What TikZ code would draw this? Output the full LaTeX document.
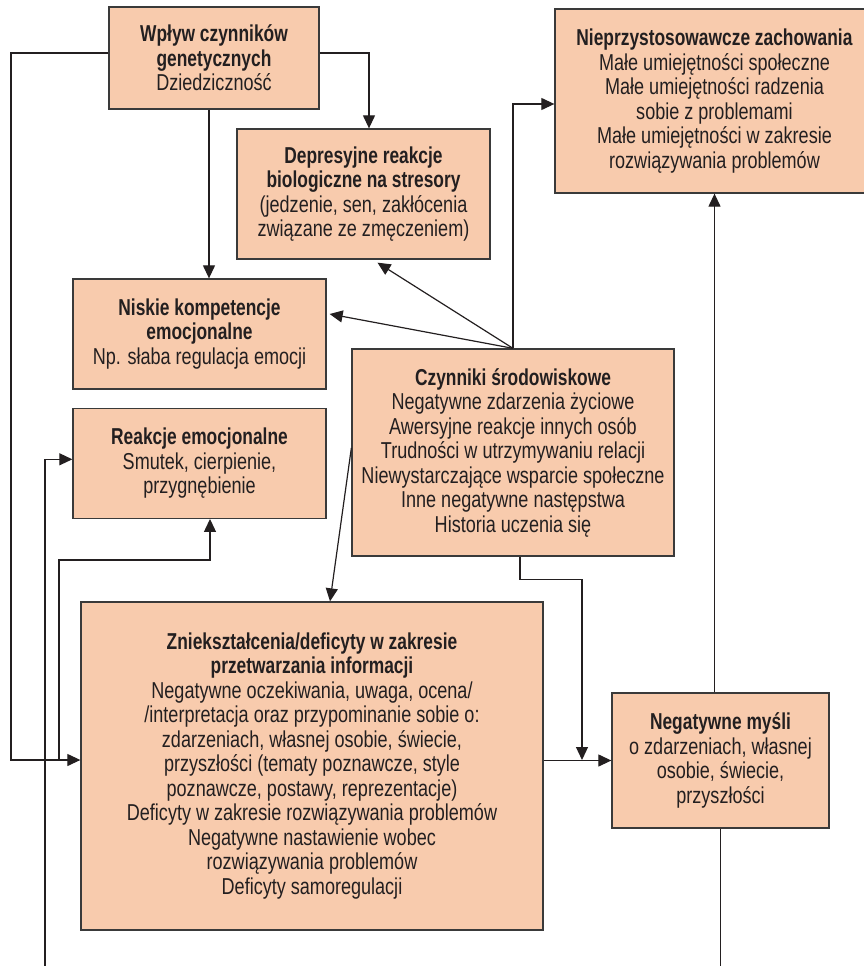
\documentclass[tikz,border=0pt]{standalone}
\usepackage{fontspec}
\setmainfont{Liberation Sans}[FakeStretch=0.785, BoldFeatures={FakeStretch=0.755}]
\usepackage{tikz}
\usetikzlibrary{arrows.meta, positioning}

\definecolor{peach}{HTML}{F8CBAD}
\definecolor{edge}{HTML}{3A3A3A}
\definecolor{txt}{HTML}{231F20}

\begin{document}
\begin{tikzpicture}[
    x=1pt, y=-1pt,
    >={Triangle[length=13pt, width=12pt]},
    pbox/.style={draw=edge, line width=1.3pt, fill=peach, align=center, inner sep=0pt, text=txt, font=\fontsize{23}{24.5}\selectfont},
    link/.style={draw=txt, line width=1.2pt}
]
\useasboundingbox (0,0) rectangle (863,966);

% Factors
\node[pbox, minimum width=210, minimum height=102] (gen) at (214,58) {\textbf{Wpływ czynników}\\ \textbf{genetycznych}\\ Dziedziczność};
\node[pbox, minimum width=253, minimum height=130] (bio) at (363.5,194) {\textbf{Depresyjne reakcje}\\ \textbf{biologiczne na stresory}\\ (jedzenie, sen, zakłócenia\\ związane ze zmęczeniem)};
\node[pbox, minimum width=319, minimum height=184] (behav) at (714.5,101) {\textbf{Nieprzystosowawcze zachowania}\\ Małe umiejętności społeczne\\ Małe umiejętności radzenia\\ sobie z problemami\\ Małe umiejętności w zakresie\\ rozwiązywania problemów};
\node[pbox, minimum width=253, minimum height=110] (compet) at (199.5,334) {\textbf{Niskie kompetencje}\\ \textbf{emocjonalne}\\ Np. słaba regulacja emocji};
\node[pbox, minimum width=253, minimum height=110, below=18pt of compet] (emo) {\textbf{Reakcje emocjonalne}\\ Smutek, cierpienie,\\ przygnębienie};
\node[pbox, minimum width=322, minimum height=207] (env) at (513,452.5) {\textbf{Czynniki środowiskowe}\\ Negatywne zdarzenia życiowe\\ Awersyjne reakcje innych osób\\ Trudności w utrzymywaniu relacji\\ Niewystarczające wsparcie społeczne\\ Inne negatywne następstwa\\ Historia uczenia się};

% Processing
\node[pbox, minimum width=462, minimum height=328] (info) at (312,766) {\textbf{Zniekształcenia/deficyty w zakresie}\\ \textbf{przetwarzania informacji}\\ Negatywne oczekiwania, uwaga, ocena/\\ /interpretacja oraz przypominanie sobie o:\\ zdarzeniach, własnej osobie, świecie,\\ przyszłości (tematy poznawcze, style\\ poznawcze, postawy, reprezentacje)\\ Deficyty w zakresie rozwiązywania problemów\\ Negatywne nastawienie wobec\\ rozwiązywania problemów\\ Deficyty samoregulacji};
\node[pbox, minimum width=217, minimum height=135] (neg) at (720.5,760.5) {\textbf{Negatywne myśli}\\ o zdarzeniach, własnej\\ osobie, świecie,\\ przyszłości};

% Loose ends
\coordinate (tap) at (59,760);
\coordinate (join) at (582,760);
\coordinate (loopL) at (45,970);
\coordinate (loopR) at (721,970);

% Edges
\draw[link, ->] ([yshift=5pt]gen.west) -| (11,400) |- ([yshift=6pt]info.west);
\draw[link, ->] ([yshift=5pt]gen.east) -| ([xshift=5.5pt]bio.north);
\draw[link, ->] ([xshift=-5pt]gen.south) -- ([xshift=-5pt]gen.south |- compet.north);
\draw[link, ->] (env.north) -- ([shift={(14pt,-3pt)}]bio.south);
\draw[link, ->] (env.north) -- ([shift={(3pt,20pt)}]compet.east);
\draw[link, ->] (env.north) |- ([yshift=-3pt]behav.west);
\draw[link, ->] ([yshift=4.5pt]env.west) -- ([xshift=18pt]info.north);
\draw[link, ->] ([xshift=7pt]env.south) -- ++(0,23) -| (join);
\draw[link, ->] (info.east |- neg.west) -- (neg.west);
\draw[link, ->] (neg.north -| behav.south) -- (behav.south);
\draw[link] (neg.south) -- (neg.south |- loopR);
\draw[link, ->] (loopL) |- ([yshift=4pt]emo.west);
\draw[link, ->] (tap) |- (120,560) -| ([xshift=10.5pt]emo.south);

\end{tikzpicture}
\end{document}
